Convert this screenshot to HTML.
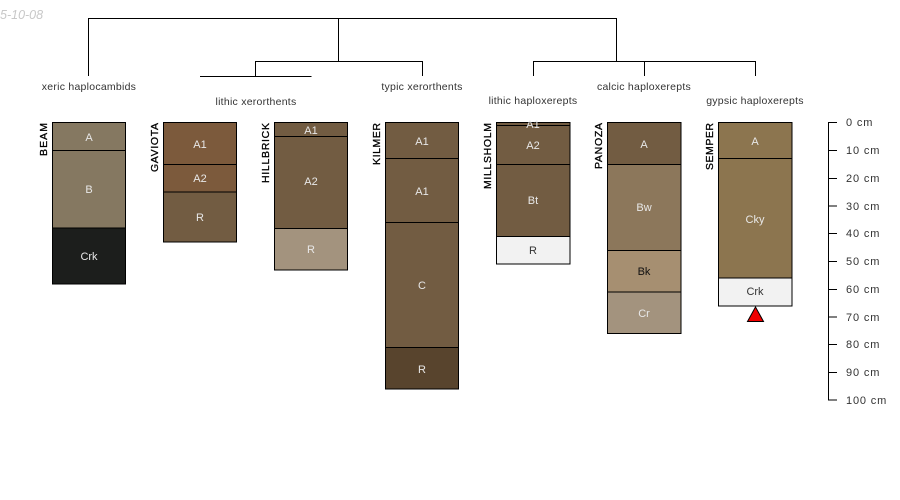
<!DOCTYPE html>
<html><head><meta charset="utf-8"><style>
html,body{margin:0;padding:0;background:#fff}
svg{display:block}
text{font-family:"Liberation Sans",sans-serif;font-size:10.5px;text-anchor:middle}
.t{fill:#333;letter-spacing:.25px}
.n{font-size:10.5px;fill:#000;stroke:#000;stroke-width:.3px;text-anchor:start}
.l{fill:#e8e8e8;font-size:11px}
.d{fill:#333;font-size:11px}
.a{text-anchor:start;fill:#333;font-size:11px;letter-spacing:.85px}
rect.h{stroke:#000;stroke-width:1}
line,path.k{stroke:#000;stroke-width:1;fill:none}
</style></head><body>
<svg width="900" height="500" viewBox="0 0 900 500" xmlns="http://www.w3.org/2000/svg">
<text x="0" y="19" style="text-anchor:start;font-style:italic;fill:#c8c8c8;font-size:12.5px">5-10-08</text>

<path class="k" d="M88.5 76V18.5H616.5V61.5"/>
<path class="k" d="M338.5 18.5V61.5"/>
<path class="k" d="M255.5 76V61.5H422.5V76"/>
<path class="k" d="M200 76.5H311.5"/>
<path class="k" d="M533.5 76V61.5H755.5V76"/>
<path class="k" d="M644.5 61.5V76"/>

<text class="t" x="89" y="90">xeric haplocambids</text>
<text class="t" x="256" y="105">lithic xerorthents</text>
<text class="t" x="422" y="90">typic xerorthents</text>
<text class="t" x="533" y="104">lithic haploxerepts</text>
<text class="t" x="644" y="90">calcic haploxerepts</text>
<text class="t" x="755" y="104">gypsic haploxerepts</text>

<text class="n" textLength="33" transform="translate(47,156) rotate(-90)">BEAM</text>
<text class="n" textLength="49" transform="translate(158,172) rotate(-90)">GAVIOTA</text>
<text class="n" textLength="60" transform="translate(269,183) rotate(-90)">HILLBRICK</text>
<text class="n" textLength="42" transform="translate(380,165) rotate(-90)">KILMER</text>
<text class="n" textLength="66" transform="translate(491,189) rotate(-90)">MILLSHOLM</text>
<text class="n" textLength="46" transform="translate(602,169) rotate(-90)">PANOZA</text>
<text class="n" textLength="47" transform="translate(713,170) rotate(-90)">SEMPER</text>

<!-- BEAM -->
<rect class="h" x="52.5" y="122.5" width="73" height="28" fill="#857861"/>
<rect class="h" x="52.5" y="150.5" width="73" height="77.5" fill="#857861"/>
<rect class="h" x="52.5" y="228" width="73" height="56" fill="#1c1e1c"/>
<text class="l" x="89" y="141">A</text><text class="l" x="89" y="193">B</text><text class="l" x="89" y="260">Crk</text>

<!-- GAVIOTA -->
<rect class="h" x="163.5" y="122.5" width="73" height="42" fill="#7c5a3c"/>
<rect class="h" x="163.5" y="164.5" width="73" height="27.5" fill="#7c5a3c"/>
<rect class="h" x="163.5" y="192" width="73" height="50" fill="#725c42"/>
<text class="l" x="200" y="148">A1</text><text class="l" x="200" y="182">A2</text><text class="l" x="200" y="221">R</text>

<!-- HILLBRICK -->
<rect class="h" x="274.5" y="122.5" width="73" height="14" fill="#725c42"/>
<rect class="h" x="274.5" y="136.5" width="73" height="92" fill="#725c42"/>
<rect class="h" x="274.5" y="228.5" width="73" height="41.5" fill="#a3937e"/>
<text class="l" x="311" y="134">A1</text><text class="l" x="311" y="185">A2</text><text class="l" x="311" y="253">R</text>

<!-- KILMER -->
<rect class="h" x="385.5" y="122.5" width="73" height="36" fill="#725c42"/>
<rect class="h" x="385.5" y="158.5" width="73" height="64" fill="#725c42"/>
<rect class="h" x="385.5" y="222.5" width="73" height="125" fill="#725c42"/>
<rect class="h" x="385.5" y="347.5" width="73" height="41.5" fill="#58442d"/>
<text class="l" x="422" y="145">A1</text><text class="l" x="422" y="195">A1</text><text class="l" x="422" y="289">C</text><text class="l" x="422" y="373">R</text>

<!-- MILLSHOLM -->
<rect class="h" x="496.5" y="122.5" width="73.5" height="3" fill="#725c42"/>
<rect class="h" x="496.5" y="125.5" width="73.5" height="39" fill="#725c42"/>
<rect class="h" x="496.5" y="164.5" width="73.5" height="72" fill="#725c42"/>
<rect class="h" x="496.5" y="236.5" width="73.5" height="27.5" fill="#f2f2f2"/>
<text class="l" x="533" y="128">A1</text><text class="l" x="533" y="149">A2</text><text class="l" x="533" y="204">Bt</text><text class="d" x="533" y="254">R</text>

<!-- PANOZA -->
<rect class="h" x="607.5" y="122.5" width="73.5" height="42" fill="#725c42"/>
<rect class="h" x="607.5" y="164.5" width="73.5" height="86" fill="#8c775b"/>
<rect class="h" x="607.5" y="250.5" width="73.5" height="41.5" fill="#a68f71"/>
<rect class="h" x="607.5" y="292" width="73.5" height="41.5" fill="#a3937e"/>
<text class="l" x="644" y="148">A</text><text class="l" x="644" y="211">Bw</text><text x="644" y="275" fill="#111" font-size="11" style="font-size:11px">Bk</text><text class="l" x="644" y="317">Cr</text>

<!-- SEMPER -->
<rect class="h" x="718.5" y="122.5" width="73.5" height="36" fill="#8c754f"/>
<rect class="h" x="718.5" y="158.5" width="73.5" height="119.5" fill="#8c754f"/>
<rect class="h" x="718.5" y="278" width="73.5" height="28" fill="#f2f2f2"/>
<text class="l" x="755" y="145">A</text><text class="l" x="755" y="223">Cky</text><text class="d" x="755" y="295">Crk</text>
<polygon points="755.5,307 747.5,321.5 763.5,321.5" fill="#f00000" stroke="#000" stroke-width="1"/>

<!-- scale -->
<path class="k" d="M837 122.5H828.5V400H837"/>
<line x1="828.5" y1="150.5" x2="837" y2="150.5"/>
<line x1="828.5" y1="178.5" x2="837" y2="178.5"/>
<line x1="828.5" y1="206" x2="837" y2="206"/>
<line x1="828.5" y1="233.5" x2="837" y2="233.5"/>
<line x1="828.5" y1="261.5" x2="837" y2="261.5"/>
<line x1="828.5" y1="289.5" x2="837" y2="289.5"/>
<line x1="828.5" y1="317" x2="837" y2="317"/>
<line x1="828.5" y1="344.5" x2="837" y2="344.5"/>
<line x1="828.5" y1="372.5" x2="837" y2="372.5"/>
<text class="a" x="846" y="126">0 cm</text>
<text class="a" x="846" y="154">10 cm</text>
<text class="a" x="846" y="182">20 cm</text>
<text class="a" x="846" y="210">30 cm</text>
<text class="a" x="846" y="237">40 cm</text>
<text class="a" x="846" y="265">50 cm</text>
<text class="a" x="846" y="293">60 cm</text>
<text class="a" x="846" y="321">70 cm</text>
<text class="a" x="846" y="348">80 cm</text>
<text class="a" x="846" y="376">90 cm</text>
<text class="a" x="846" y="404">100 cm</text>
</svg>
</body></html>
